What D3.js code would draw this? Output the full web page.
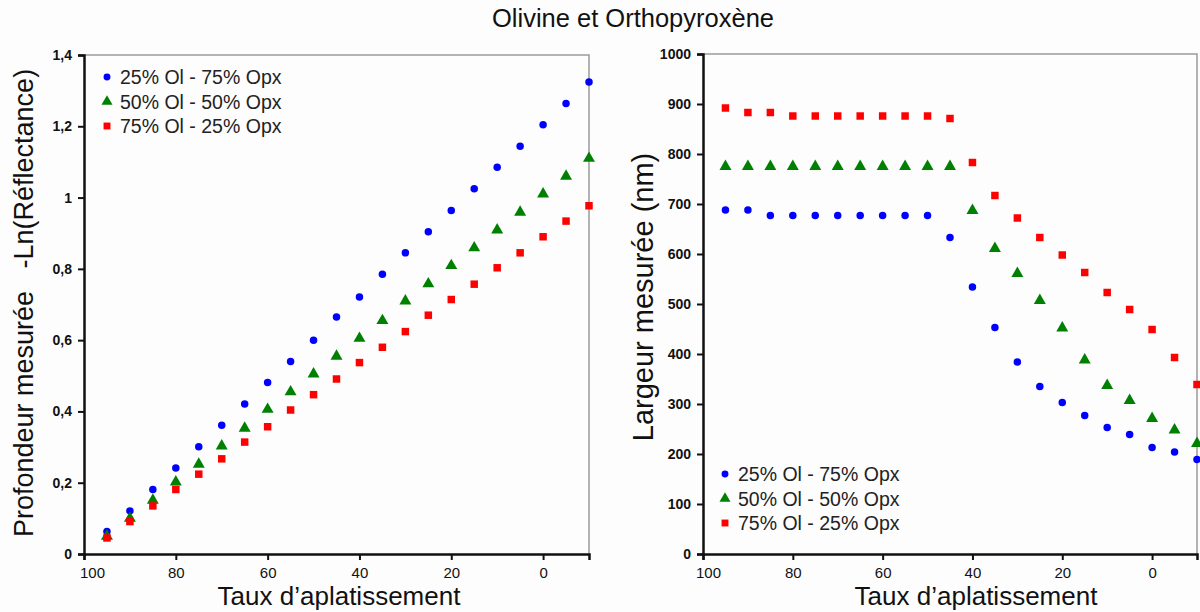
<!DOCTYPE html>
<html><head><meta charset="utf-8">
<script src="https://cdn.jsdelivr.net/npm/d3@7"></script>
<style>
body{margin:0;background:#fdfdfd;}
svg{display:block;font-family:"Liberation Sans",Arial,sans-serif;}
</style></head><body>
<svg id="c" width="1200" height="612"></svg>
<script>
const xValues = [95,90,85,80,75,70,65,60,55,50,45,40,35,30,25,20,15,10,5,0,-5,-10];
const seriesNames = ["25% Ol - 75% Opx","50% Ol - 50% Opx","75% Ol - 25% Opx"];
const depthBlue  = [0.063,0.121,0.181,0.241,0.301,0.361,0.421,0.481,0.540,0.600,0.665,0.721,0.785,0.845,0.904,0.964,1.025,1.085,1.144,1.204,1.264,1.324];
const depthGreen = [0.050,0.100,0.151,0.202,0.252,0.303,0.353,0.406,0.455,0.505,0.555,0.605,0.655,0.710,0.758,0.809,0.859,0.909,0.959,1.010,1.060,1.110];
const depthRed   = [0.045,0.091,0.135,0.181,0.224,0.267,0.314,0.357,0.404,0.447,0.491,0.537,0.580,0.624,0.670,0.714,0.757,0.803,0.845,0.890,0.934,0.977];
const widthBlue  = [688,688,677,677,677,677,677,677,677,677,633,534,453,384,335,303,277,253,239,213,204,189];
const widthGreen = [775,775,775,775,775,775,775,775,775,775,775,687,611,561,507,452,388,337,307,271,248,221];
const widthRed   = [892,883,883,876,876,876,876,876,876,876,871,783,717,672,633,598,563,523,489,449,393,339];
const xTicks = [100,80,60,40,20,0];
const depthTicks = [0,0.2,0.4,0.6,0.8,1,1.2,1.4];
const widthTicks = [0,100,200,300,400,500,600,700,800,900,1000];

const colors = ["#0000ff","#008000","#ff0000"];
const shapes = [d3.symbolCircle,d3.symbolTriangle,d3.symbolSquare];
const sizes = [44,62,56];

const svg = d3.select("#c");
svg.append("text").attr("x",633).attr("y",27).attr("text-anchor","middle")
  .attr("font-size",25.5).attr("fill","#111").text("Olivine et Orthopyroxène");

function panel(cfg){
  const g = svg.append("g");
  const x = d3.scaleLinear().domain([100,-10]).range([cfg.left,cfg.right]);
  const y = d3.scaleLinear().domain(cfg.ydom).range([cfg.bottom,cfg.top]);
  g.append("path").attr("d",`M${cfg.left},${cfg.top}H${cfg.right}V${cfg.bottom}`)
    .attr("fill","none").attr("stroke","#9a9a9a").attr("stroke-width",1.5);
  const xa = g.append("g").attr("transform",`translate(0,${cfg.bottom})`)
    .call(d3.axisBottom(x).tickValues(xTicks).tickSize(6).tickPadding(7).tickFormat(d3.format("d")));
  const ya = g.append("g").attr("transform",`translate(${cfg.left},0)`)
    .call(d3.axisLeft(y).tickValues(cfg.yticks).tickSize(6).tickPadding(6).tickFormat(cfg.yfmt));
  [xa,ya].forEach(a=>{
    a.select(".domain").attr("stroke","#111").attr("stroke-width",2.5);
    a.selectAll(".tick line").attr("stroke","#111").attr("stroke-width",2);
  });
  xa.selectAll(".tick text").attr("font-size",15).attr("font-family",null).attr("fill","#111")
    .attr("dx",d=>d===100?cfg.dx100:0);
  ya.selectAll(".tick text").attr("font-size",14).attr("font-weight","bold").attr("font-family",null).attr("fill","#111");
  cfg.series.forEach((s,i)=>{
    g.append("g").selectAll("path").data(s).join("path")
      .attr("transform",(d,j)=>`translate(${x(xValues[j])},${y(d)})`)
      .attr("d",d3.symbol().type(shapes[i]).size(sizes[i])())
      .attr("fill",colors[i]);
  });
  seriesNames.forEach((n,i)=>{
    const ly = cfg.legY + i*24.5;
    g.append("path").attr("transform",`translate(${cfg.legX},${ly})`)
      .attr("d",d3.symbol().type(shapes[i]).size(sizes[i]*0.85)()).attr("fill",colors[i]);
    g.append("text").attr("x",cfg.legX+13).attr("y",ly+7).attr("font-size",19.5)
      .attr("fill","#222").text(n);
  });
  g.append("text").attr("x",cfg.xtx).attr("y",605).attr("text-anchor","middle")
    .attr("font-size",26).attr("fill","#111").text("Taux d’aplatissement");
  g.append("text").attr("transform",`translate(${cfg.ytx},${cfg.yty}) rotate(-90)`)
    .attr("text-anchor","middle").attr("font-size",cfg.ytsize).attr("fill","#111")
    .style("white-space","pre").text(cfg.ytitle);
}

panel({left:84,right:589,top:55,bottom:554,ydom:[0,1.4],yticks:depthTicks,
  yfmt:d=>d3.format("~g")(d).replace(".",","),series:[depthBlue,depthGreen,depthRed],
  legX:107,legY:77,ytitle:"Profondeur mesurée   -Ln(Réflectance)",ytx:33,yty:303,ytsize:27,
  xtx:339,dx100:8});
panel({left:703,right:1197,top:54,bottom:554,ydom:[0,1000],yticks:widthTicks,
  yfmt:d3.format("d"),series:[widthBlue,widthGreen,widthRed],
  legX:725,legY:474,ytitle:"Largeur mesurée (nm)",ytx:653,yty:297,ytsize:29,
  xtx:976,dx100:5});
</script></body></html>
